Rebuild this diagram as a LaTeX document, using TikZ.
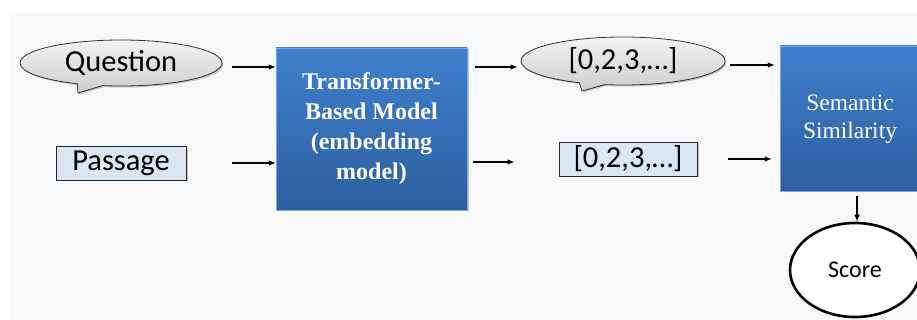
\documentclass[tikz,border=0pt]{standalone}
\usepackage{fontspec}
\setmainfont{Liberation Serif}
\newfontfamily\labelfont{Carlito}
\usetikzlibrary{shapes.callouts,shapes.geometric,shadows,arrows.meta}
\definecolor{canvas}{HTML}{F7F8FA}
\definecolor{boxtop}{HTML}{3F80CE}
\definecolor{boxbot}{HTML}{2D5E9F}
\definecolor{vecfill}{HTML}{DCE6F2}
\definecolor{bubbletop}{HTML}{F2F2F2}
\definecolor{bubblebot}{HTML}{CDCDCD}
\tikzset{
  arr/.style={line width=1.1pt,-{Latex[length=7pt,width=5.5pt]}},
  softshadow/.style={drop shadow={shadow xshift=1.5pt,shadow yshift=-1.5pt,opacity=0.35,fill=black!60}},
  bluebox/.style={rectangle,inner sep=0pt,top color=boxtop,bottom color=boxbot,draw=boxtop!70!white,line width=0.4pt,
    text=white,align=center,softshadow},
  bubble/.style={ellipse callout,inner sep=0pt,draw=black!80,line width=0.8pt,top color=bubbletop,bottom color=bubblebot,
    font=\labelfont\fontsize{30.5}{31}\selectfont,softshadow},
  vecbox/.style={rectangle,inner sep=0pt,draw=black!85,line width=0.9pt,fill=vecfill,
    font=\labelfont\fontsize{30.5}{31}\selectfont,softshadow},
}
\begin{document}
\begin{tikzpicture}[x=1pt,y=-1pt]
  \clip (0,0) rectangle (917,320);
  \useasboundingbox (0,0) rectangle (917,320);
  \fill[white] (0,0) rectangle (917,320);
  \fill[canvas] (9,13) rectangle (917,320);

  % inputs
  \node[bubble,minimum width=202pt,minimum height=46pt,callout absolute pointer={(78,93)}] (q) at (121,63) {Question};
  \node[vecbox,minimum width=130pt,minimum height=34pt] (p) at (121,163) {Passage};

  % embedding model
  \node[bluebox,minimum width=191pt,minimum height=162pt,
        font=\bfseries\fontsize{24}{30}\selectfont] (tbm) at (371.5,129)
        {Transformer-\\Based Model\\(embedding\\model)};

  % embeddings
  \node[bubble,minimum width=204pt,minimum height=48pt,callout absolute pointer={(582,91)}] (qv) at (623,61) {[0,2,3,\ldots]};
  \node[vecbox,minimum width=138pt,minimum height=34pt] (pv) at (628,159) {[0,2,3,\ldots]};

  % similarity and score
  \node[bluebox,minimum width=140pt,minimum height=145pt,
        font=\fontsize{23.5}{28}\selectfont] (ss) at (850,118.5)
        {\raisebox{-4.5pt}{\begin{tabular}{@{}c@{}}Semantic\\Similarity\end{tabular}}};
  \node[ellipse,draw=black,line width=2.6pt,fill=white,minimum width=130pt,minimum height=94pt,
        inner sep=0pt,font=\labelfont\fontsize{24}{26}\selectfont] (sc) at (855,270) {Score};

  % connectors
  \coordinate (a1) at ([shift={(10pt,-4pt)}]q.east);
  \draw[arr] (a1) -- (a1 -| tbm.west);
  \coordinate (a2) at ([xshift=46pt]p.east);
  \draw[arr] (a2) -- (a2 -| tbm.west);
  \coordinate (a3) at ([shift={(8pt,62pt)}]tbm.east);
  \draw[arr] (a3) -- ([xshift=-3pt]a3 -| qv.west);
  \coordinate (a4) at ([shift={(6pt,-33pt)}]tbm.east);
  \draw[arr] (a4) -- ([xshift=-44pt]a4 -| pv.west);
  \coordinate (a5) at ([shift={(5pt,-4pt)}]qv.east);
  \draw[arr] (a5) -- ([xshift=-5pt]a5 -| ss.west);
  \coordinate (a6) at ([xshift=31pt]pv.east);
  \draw[arr] (a6) -- ([xshift=-8pt]a6 -| ss.west);
  \coordinate (a7) at ([shift={(7pt,-5pt)}]ss.south);
  \draw[arr] (a7) -- (a7 |- sc.north);
\end{tikzpicture}
\end{document}
